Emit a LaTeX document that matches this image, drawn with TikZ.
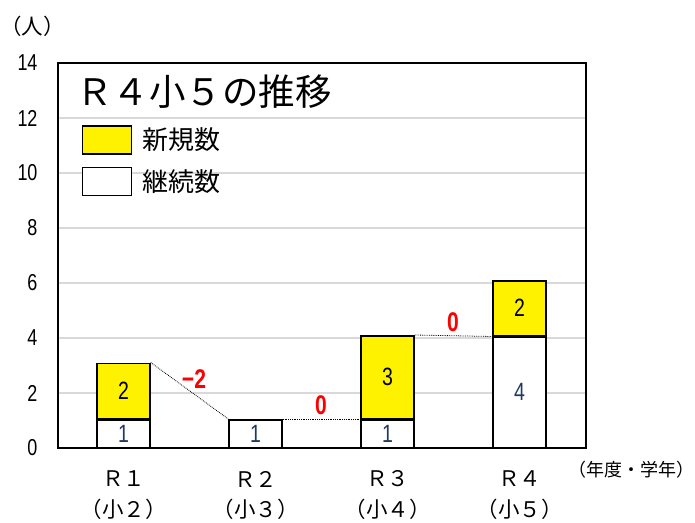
\documentclass[tikz,border=0pt]{standalone}
\usepackage{fontspec}
\newfontfamily\jpfont{Noto Sans CJK JP}
\newfontfamily\numfont[FakeStretch=0.78]{Liberation Sans}
\usepackage{tikz}
\usetikzlibrary{positioning}
\definecolor{barblue}{HTML}{1F3864}
\definecolor{gridgray}{HTML}{D9D9D9}

\begin{document}
\begin{tikzpicture}
    [
    x=1pt,y=-1pt,
    newbar/.style={draw,line width=1.5pt,fill=yellow,minimum width=53pt,inner sep=0pt,anchor=south,font=\numfont\fontsize{25}{25}\selectfont},
    keepbar/.style={newbar,fill=white,text=barblue},
    legbox/.style={draw,line width=1.5pt,minimum width=49pt,minimum height=28pt,inner sep=0pt},
    legtext/.style={font=\jpfont\fontsize{26}{26}\selectfont,inner sep=0pt},
    diff/.style={text=red,font=\numfont\bfseries\fontsize{27}{27}\selectfont},
    ylab/.style={anchor=east,font=\numfont\fontsize{23}{23}\selectfont},
    cat/.style={font=\jpfont\fontsize{21.5}{21.5}\selectfont},
    grid line/.style={gridgray,line width=1.2pt},
    ]
    \useasboundingbox (0,0) rectangle (695,522);

    \draw [grid line] (58,393) -- (586,393);
    \draw [grid line] (58,338) -- (586,338);
    \draw [grid line] (58,283) -- (586,283);
    \draw [grid line] (58,228) -- (586,228);
    \draw [grid line] (58,173) -- (586,173);
    \draw [grid line] (58,118) -- (586,118);
    \draw [line width=1.3pt] (58,63) rectangle (586,448);

    \node (y0) at (41,448) [ylab] {0};
    \node (y2) at (41,393) [ylab] {2};
    \node (y4) at (41,338) [ylab] {4};
    \node (y6) at (41,283) [ylab] {6};
    \node (y8) at (41,228) [ylab] {8};
    \node (y10) at (41,173) [ylab] {10};
    \node (y12) at (41,118) [ylab] {12};
    \node (y14) at (41,63) [ylab] {14};
    \node (unit) at (0,26) [cat,anchor=west,inner sep=0pt] {（人）};

    \node (title) at (76,92) [anchor=west,inner sep=0pt,font=\jpfont\fontsize{36.5}{36.5}\selectfont] {Ｒ４小５の推移};
    \node (lnew) at (107,140) [legbox,fill=yellow] {};
    \node (lkeep) [legbox,fill=white,below=12pt of lnew] {};
    \node (tnew) [legtext,right=10pt of lnew] {新規数};
    \node (tkeep) [legtext,right=10pt of lkeep] {継続数};

    \node (k1) at (123.5,448) [keepbar,minimum height=27.5pt] {1};
    \node (n1) [newbar,minimum height=55pt,above=0pt of k1] {2};
    \node (k2) at (255.5,448) [keepbar,minimum height=27.5pt] {1};
    \node (k3) at (387.5,448) [keepbar,minimum height=27.5pt] {1};
    \node (n3) [newbar,minimum height=82.5pt,above=0pt of k3] {3};
    \node (k4) at (519.5,448) [keepbar,minimum height=110pt] {4};
    \node (n4) [newbar,minimum height=55pt,above=0pt of k4] {2};

    \draw [densely dotted,line width=0.8pt] (n1.north east) to (k2.north west);
    \draw [densely dotted,line width=0.8pt] (k2.north east) to (k3.north west);
    \draw [densely dotted,line width=0.8pt] (n3.north east) to (k4.north west);
    \node (d1) at (194,379) [diff] {−2};
    \node (d2) at (321,405) [diff] {0};
    \node (d3) at (453,322) [diff] {0};

    \node (c1) at (123.5,479) [cat] {Ｒ１};
    \node (c2) at (255.5,479) [cat] {Ｒ２};
    \node (c3) at (387.5,479) [cat] {Ｒ３};
    \node (c4) at (519.5,479) [cat] {Ｒ４};
    \node (g1) at (123.5,509) [cat] {（小２）};
    \node (g2) at (255.5,509) [cat] {（小３）};
    \node (g3) at (387.5,509) [cat] {（小４）};
    \node (g4) at (519.5,509) [cat] {（小５）};
    \node (yr) at (631,470) [font=\jpfont\fontsize{18}{18}\selectfont] {（年度・学年）};
  \end{tikzpicture}
\end{document}
